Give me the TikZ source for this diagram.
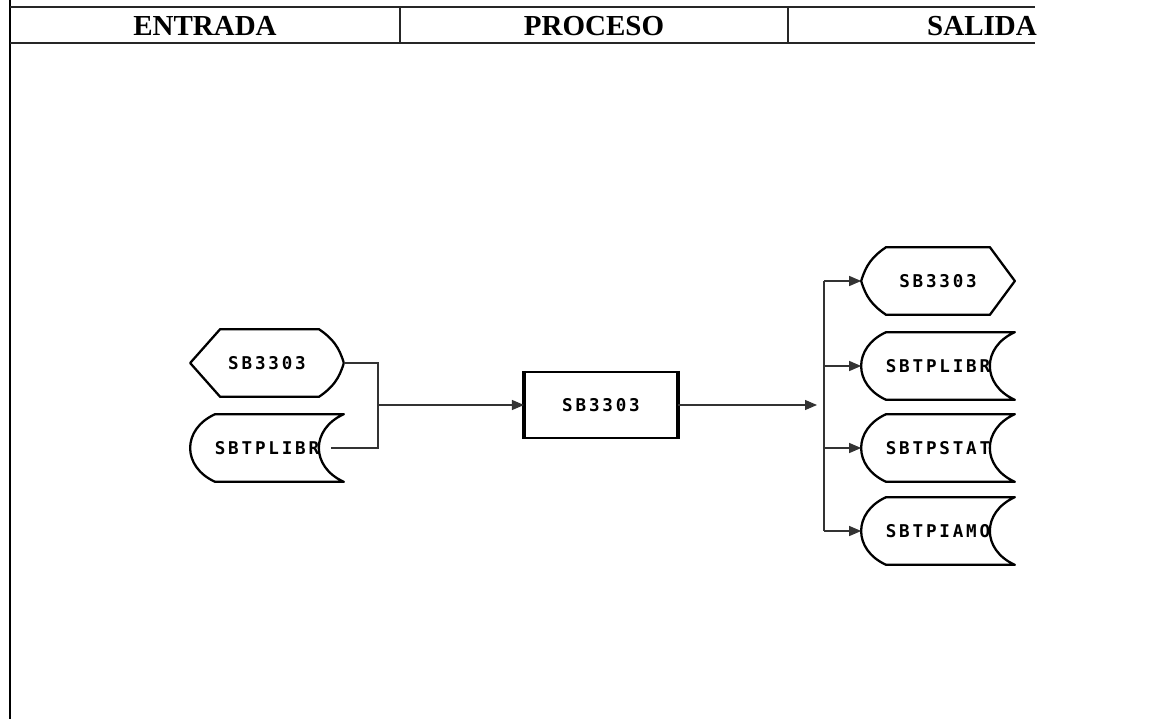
\documentclass[tikz,border=0pt]{standalone}
\usepackage{fontspec}
\setmainfont{Liberation Serif}
\newfontfamily\dotfont[LetterSpace=16]{DejaVu Sans Mono}
\usetikzlibrary{positioning,arrows.meta,calc}

% outlines drawn round a named node
\newcommand{\displeft}[1]{% point on the left, bow on the right
  \draw[outline] (#1.west) -- ([xshift=0.6cm]#1.north west) -- ([xshift=-0.5cm]#1.north east)
    to[bend left=20] (#1.east) to[bend left=20] ([xshift=-0.5cm]#1.south east)
    -- ([xshift=0.6cm]#1.south west) -- cycle;}
\newcommand{\dispright}[1]{% bow on the left, point on the right
  \draw[outline] (#1.east) -- ([xshift=-0.5cm]#1.north east) -- ([xshift=0.5cm]#1.north west)
    to[bend right=20] (#1.west) to[bend right=20] ([xshift=0.5cm]#1.south west)
    -- ([xshift=-0.5cm]#1.south east) -- cycle;}
\newcommand{\storedshape}[1]{%
  \draw[outline] ([xshift=0.5cm]#1.north west) -- (#1.north east)
    .. controls ([xshift=-0.667cm,yshift=-0.3cm]#1.north east) and ([xshift=-0.667cm,yshift=0.3cm]#1.south east) .. (#1.south east)
    -- ([xshift=0.5cm]#1.south west)
    .. controls ([xshift=-0.167cm,yshift=0.3cm]#1.south west) and ([xshift=-0.167cm,yshift=-0.3cm]#1.north west) .. ([xshift=0.5cm]#1.north west)
    -- cycle;}

\begin{document}
\begin{tikzpicture}[
  x=0.02cm,y=-0.02cm,
  head/.style={font=\fontsize{16.5}{18}\selectfont\bfseries,inner sep=0pt},
  rule/.style={line width=1pt,black!85},
  file/.style={rectangle,minimum width=3.06cm,minimum height=1.34cm,inner sep=0pt,
    font=\fontsize{10}{12}\dotfont\bfseries},
  proc/.style={file,draw,line width=1.2pt,minimum width=3.04cm,minimum height=1.32cm},
  outline/.style={line width=1.3pt,line join=round},
  link/.style={line width=0.6pt,black!80},
  arr/.style={link,-{Triangle[length=0.24cm,width=0.2cm]}},
]
\useasboundingbox (0,0) rectangle (1165,719);

% Header
\draw[line width=1.7pt] (10,0) -- (10,719);
\draw[rule] (10,7) -- (1035,7);
\draw[rule] (10,43) -- (1035,43);
\draw[rule] (400,7) -- (400,43);
\draw[rule] (788,7) -- (788,43);
\node[head] (hE) at (205,26) {ENTRADA};
\node[head] (hP) at (594,26) {PROCESO};
\node[head] (hS) at (982,26) {SALIDA};

% Inputs
\node[file] (E1) at (267,363) {SB3303};
\node[file] (E2) at (267,448) {SBTPLIBR};
\displeft{E1}
\storedshape{E2}

% Process
\node[proc] (P) at (601,405) {SB3303};
\draw[line width=2.6pt] (P.north west) -- (P.south west);
\draw[line width=2.6pt] (P.north east) -- (P.south east);

% Outputs
\node[file] (S1) at (938,281) {SB3303};
\node[file] (S2) at (938,366) {SBTPLIBR};
\node[file] (S3) at (938,448) {SBTPSTAT};
\node[file] (S4) at (938,531) {SBTPIAMO};
\dispright{S1}
\foreach \n in {S2,S3,S4} {\storedshape{\n}}

% Connectors
\coordinate (J) at (378,405);
\coordinate (B) at (824,405);
\draw[link] (E1.east) -| (J);
\draw[link] ([xshift=-0.25cm]E2.east) -| (J);
\draw[arr] (J) -- (P.west);
\draw[arr] (P.east) -- ([xshift=-0.14cm]B);
\draw[link] (S1.west -| B) -- (S4.west -| B);
\foreach \n in {S1,S2,S3,S4} {\draw[arr] (\n.west -| B) -- (\n.west);}

\end{tikzpicture}
\end{document}
